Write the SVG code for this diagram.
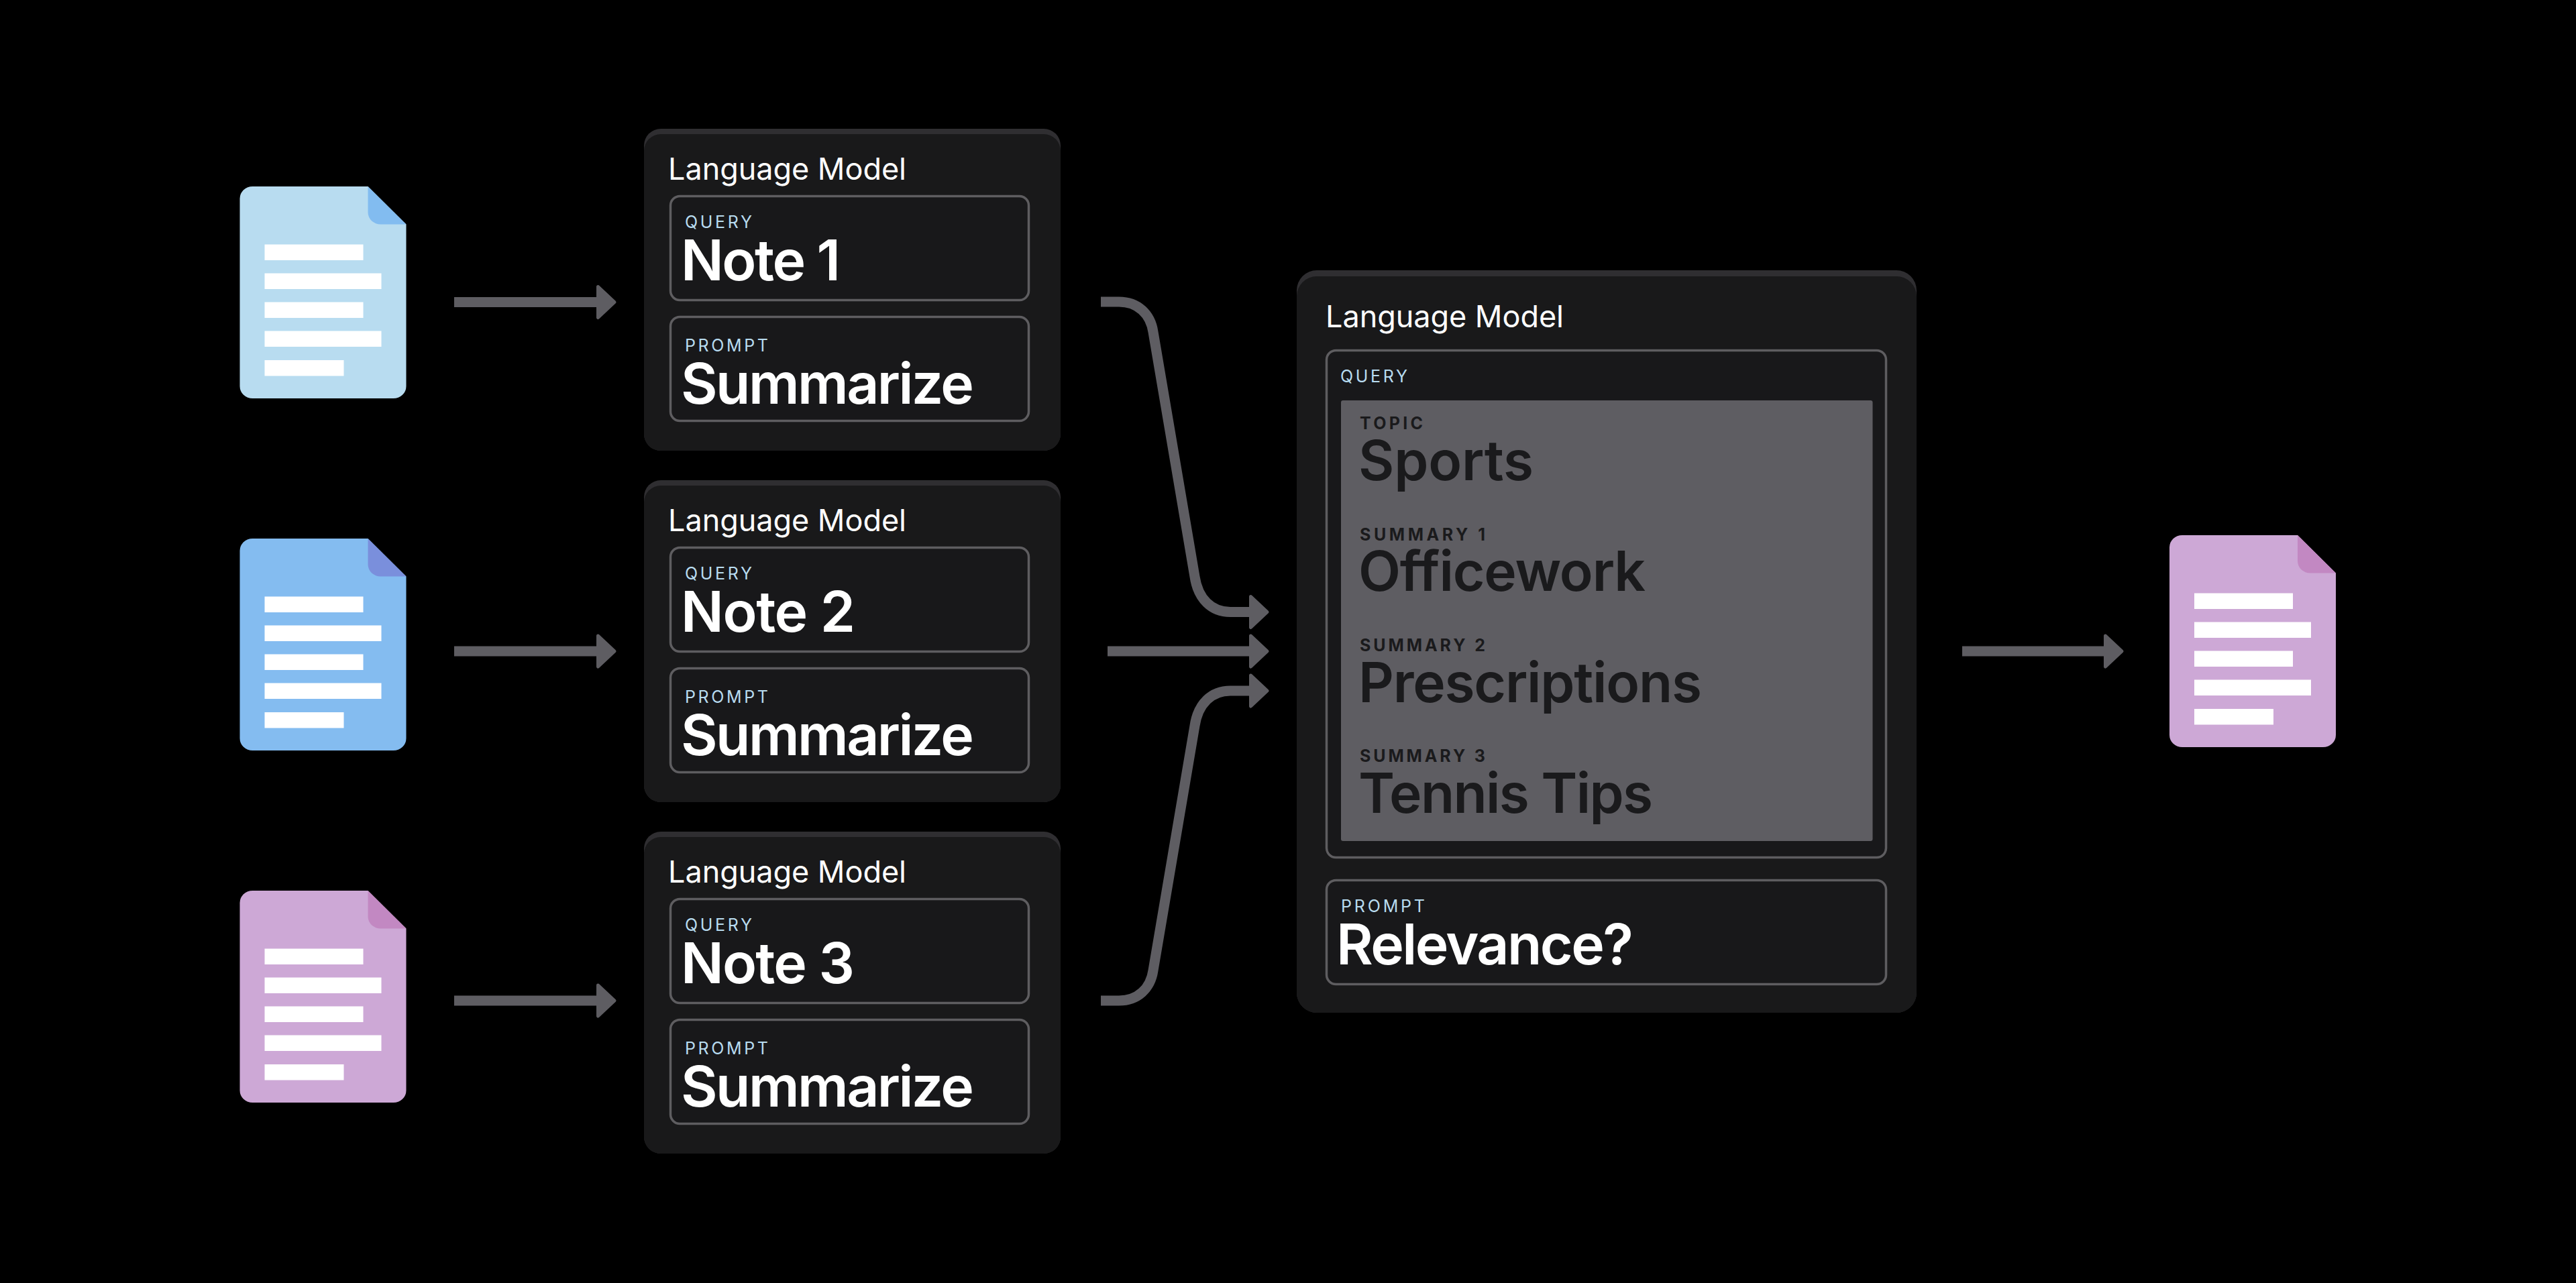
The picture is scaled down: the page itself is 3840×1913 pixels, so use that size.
<svg xmlns="http://www.w3.org/2000/svg" xmlns:xlink="http://www.w3.org/1999/xlink" width="3840" height="1913" viewBox="0 0 3840 1913">
<style>
text{font-family:Inter,"Liberation Sans",sans-serif}
.band{fill:#2f2e31}
.panel{fill:#19191a}
.box{fill:#18181a;stroke:#5e5d60;stroke-width:3.5}
.title{font-size:45px;font-weight:400;fill:#fff}
.lab{font-size:25px;font-weight:400;fill:#b8dcf0}
.big{font-size:84px;font-weight:600;fill:#fff}
.dlab{font-size:25px;font-weight:700;fill:#1a1a1c}
.dbig{font-size:82px;font-weight:600;fill:#1a1a1c}
.conn{fill:none;stroke:#5e5d62;stroke-width:15;marker-end:url(#head)}
.bar{fill:#fff}
.d1{fill:#b8dcf0}.f1{fill:#82bcf0}
.d2{fill:#84bcf0}.f2{fill:#7a8fdc}
.d3{fill:#cda8d6}.f3{fill:#c288c2}
</style>
<defs>
<marker id="head" markerUnits="userSpaceOnUse" markerWidth="44" markerHeight="64" viewBox="-6 -32 44 64" refX="3" refY="0" orient="auto">
<path d="M2.5 -23 L27 0 L2.5 23 Z" fill="#5e5d62" stroke="#5e5d62" stroke-width="5" stroke-linejoin="round"/>
</marker>
<g id="bars">
<rect class="bar" x="37" y="86.5" width="147" height="23.5"/>
<rect class="bar" x="37" y="129.5" width="174" height="23.5"/>
<rect class="bar" x="37" y="172.5" width="147" height="23.5"/>
<rect class="bar" x="37" y="215.5" width="174" height="23.5"/>
<rect class="bar" x="37" y="259" width="118" height="23.5"/>
</g>
<path id="page" d="M19 0 H191 L248 56.500 V298 A19 18 0 0 1 229 316 H19 A19 18 0 0 1 0 298 V18 A19 18 0 0 1 19 0 Z"/>
<path id="fold" d="M191 0 L248 56.500 H210 A19 18 0 0 1 191 38.500 Z"/>
</defs>
<rect width="3840" height="1913" fill="#000"/>
<g id="connectors">
<path class="conn" d="M677 450.500 H892"/>
<path class="conn" d="M677 971 H892"/>
<path class="conn" d="M677 1492 H892"/>
<path class="conn" d="M1641 450 H1668 C1696 450 1715 468 1719 495 L1781 860 C1786 893 1806 912.500 1834 912.500 H1865"/>
<path class="conn" d="M1651 971 H1865"/>
<path class="conn" d="M1641 1492 H1668 C1696 1492 1715 1474 1719 1447 L1781 1082 C1786 1049 1806 1030 1834 1030 H1865"/>
<path class="conn" d="M2925 971 H3139"/>
</g>
<g id="doc-1" transform="translate(357.500,278)"><use href="#page" class="d1"/><use href="#fold" class="f1"/><use href="#bars"/></g>
<g id="doc-2" transform="translate(357.500,803)"><use href="#page" class="d2"/><use href="#fold" class="f2"/><use href="#bars"/></g>
<g id="doc-3" transform="translate(357.500,1328)"><use href="#page" class="d3"/><use href="#fold" class="f3"/><use href="#bars"/></g>
<g id="doc-output" transform="translate(3234,798)"><use href="#page" class="d3"/><use href="#fold" class="f3"/><use href="#bars"/></g>

<g id="model-1">
<rect class="band" x="960" y="192" width="621" height="480" rx="25"/>
<rect class="panel" x="960" y="200" width="621" height="472" rx="25"/>
<text class="title" x="996" y="267.500" textLength="355">Language Model</text>
<rect class="box" x="999.500" y="292.500" width="534" height="155" rx="14"/>
<text class="lab" x="1021" y="339.500" textLength="100">QUERY</text>
<text class="big" x="1015" y="418" textLength="238">Note 1</text>
<rect class="box" x="999.500" y="472.500" width="534" height="155" rx="14"/>
<text class="lab" x="1021" y="524" textLength="124">PROMPT</text>
<text class="big" x="1015" y="602" textLength="437">Summarize</text>
</g>
<g id="model-2" transform="translate(0,524)">
<rect class="band" x="960" y="192" width="621" height="480" rx="25"/>
<rect class="panel" x="960" y="200" width="621" height="472" rx="25"/>
<text class="title" x="996" y="267.500" textLength="355">Language Model</text>
<rect class="box" x="999.500" y="292.500" width="534" height="155" rx="14"/>
<text class="lab" x="1021" y="339.500" textLength="100">QUERY</text>
<text class="big" x="1015" y="418" textLength="260">Note 2</text>
<rect class="box" x="999.500" y="472.500" width="534" height="155" rx="14"/>
<text class="lab" x="1021" y="524" textLength="124">PROMPT</text>
<text class="big" x="1015" y="602" textLength="437">Summarize</text>
</g>
<g id="model-3" transform="translate(0,1048)">
<rect class="band" x="960" y="192" width="621" height="480" rx="25"/>
<rect class="panel" x="960" y="200" width="621" height="472" rx="25"/>
<text class="title" x="996" y="267.500" textLength="355">Language Model</text>
<rect class="box" x="999.500" y="292.500" width="534" height="155" rx="14"/>
<text class="lab" x="1021" y="339.500" textLength="100">QUERY</text>
<text class="big" x="1015" y="418" textLength="259">Note 3</text>
<rect class="box" x="999.500" y="472.500" width="534" height="155" rx="14"/>
<text class="lab" x="1021" y="524" textLength="124">PROMPT</text>
<text class="big" x="1015" y="602" textLength="437">Summarize</text>
</g>
<g id="model-final">
<rect class="band" x="1933" y="403" width="924" height="1107" rx="30"/>
<rect class="panel" x="1933" y="412" width="924" height="1098" rx="30"/>
<text class="title" x="1976" y="488" textLength="355">Language Model</text>
<rect class="box" x="1977.500" y="522.500" width="834" height="756" rx="14"/>
<text class="lab" x="1998" y="570" textLength="100">QUERY</text>
<rect x="1999" y="597" width="792.500" height="657" rx="3" fill="#5e5d62"/>
<text class="dlab" x="2027" y="640" textLength="94">TOPIC</text>
<text class="dbig" x="2025" y="716" textLength="261">Sports</text>
<text class="dlab" x="2027" y="805.500" textLength="187">SUMMARY 1</text>
<text class="dbig" x="2025" y="881" textLength="428">Officework</text>
<text class="dlab" x="2027" y="971" textLength="187">SUMMARY 2</text>
<text class="dbig" x="2025" y="1046.500" textLength="512">Prescriptions</text>
<text class="dlab" x="2027" y="1136" textLength="187">SUMMARY 3</text>
<text class="dbig" x="2025" y="1212" textLength="439">Tennis Tips</text>
<rect class="box" x="1977.500" y="1312.500" width="834" height="155" rx="14"/>
<text class="lab" x="1999" y="1360" textLength="125">PROMPT</text>
<text class="big" x="1992" y="1438" textLength="443">Relevance?</text>
</g>
</svg>
